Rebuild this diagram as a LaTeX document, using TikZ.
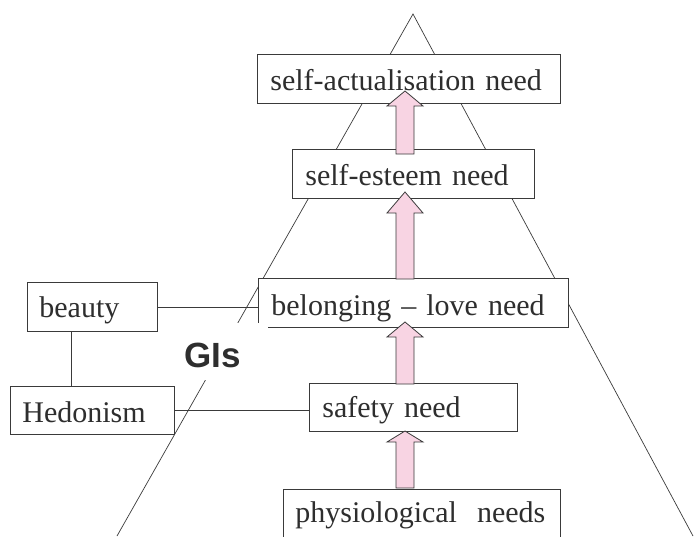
\documentclass[tikz,border=0pt]{standalone}
\usepackage{fontspec}
\setmainfont{Liberation Serif}
\newfontfamily\gisfont{Liberation Sans}
\definecolor{linec}{HTML}{3A3A3A}
\definecolor{textc}{HTML}{2E2E2E}
\definecolor{pinkc}{HTML}{F8D4E3}
\tikzset{
  box/.style={draw=linec, line width=0.8pt, fill=white, rectangle, anchor=north west,
    align=left, inner ysep=0pt, text=textc, font=\fontsize{30}{36}\selectfont},
  link/.style={draw=linec, line width=0.8pt},
  tri/.style={draw=linec, line width=0.7pt},
  blk/.style={draw=linec, line width=0.8pt, fill=pinkc, line join=miter}
}
\newcommand\pinkarrow[3]{%
  \draw[blk] (396,#1) -- (396,#2) -- (387,#2) -- (405,#3) -- (423,#2) -- (414,#2) -- (414,#1) -- cycle;}
\begin{document}
\begin{tikzpicture}[x=1pt,y=-1pt]
\useasboundingbox (0,0) rectangle (696,536);
% pyramid
\coordinate (apex) at (413,14);
\coordinate (tl) at (117,536);
\coordinate (tr) at (693,536);
\draw[tri] (tl) -- (apex) -- (tr);
% boxes
\node[box, inner xsep=13pt, text width=277pt, text height=36pt, text depth=13pt] (sa) at (257,54) {self-actualisation need};
\node[box, inner xsep=13pt, text width=216pt, text height=36pt, text depth=13pt] (se) at (292,149) {self-esteem need};
\node[box, inner xsep=13pt, text width=284pt, text height=37pt, text depth=12pt] (bl) at (258,278) {belonging -- love need};
\node[box, inner xsep=13pt, text width=182pt, text height=34pt, text depth=14pt] (sf) at (309,383) {safety need};
\node[box, inner xsep=12pt, text width=253pt, text height=33pt, text depth=20pt] (ph) at (283,489) {physiological\ \ needs};
\node[box, inner xsep=12pt, text width=106pt, text height=35pt, text depth=14pt] (be) at (27,282) {beauty};
\node[box, inner xsep=12pt, text width=140pt, text height=36pt, text depth=12pt] (he) at (10,386) {Hedonism};
% links
\draw[link] (be.east) -- (bl.west |- be.east);
\draw[link] (be.south -| 71,0) -- (he.north -| 71,0);
\draw[link] (he.east) -- (sf.west |- he.east);
% block arrows
\pinkarrow{154}{106}{91}
\pinkarrow{279}{213}{192}
\pinkarrow{384}{337}{322}
\pinkarrow{488}{442}{431}
% GIs label
\fill[white] (175,323) rectangle (268,380);
\node[text=textc, font=\gisfont\bfseries\fontsize{35}{40}\selectfont, inner sep=0pt, anchor=base west] (gis) at (184,367) {GIs};
\end{tikzpicture}
\end{document}
